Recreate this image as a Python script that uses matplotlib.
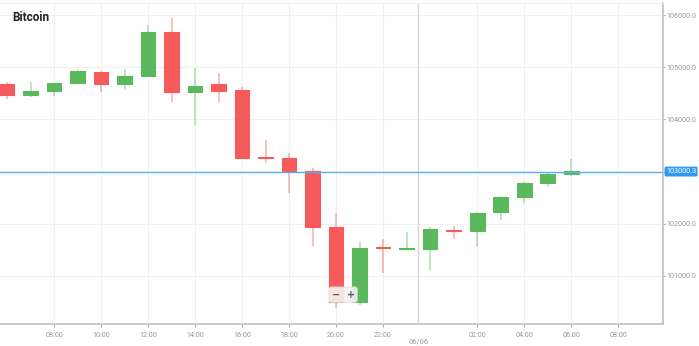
import numpy as np
import matplotlib
matplotlib.use("Agg")
import matplotlib.pyplot as plt

# hourly candles, hour counted from 05/06 00:00
hours = list(range(6, 31))
opens = [104672, 104467, 104544, 104692, 104914, 104672, 104831, 105669, 104531, 104672,
         104563, 103285, 103266, 103011, 101933, 100496, 101545, 101517, 101517, 101885,
         101868, 102220, 102508, 102787, 102954]
highs = [104722, 104716, 104697, 104946, 104930, 104966, 105808, 105948, 104979, 104895,
         104615, 103605, 103362, 103063, 102201, 101657, 101709, 101849, 101944, 101958,
         102232, 102533, 102800, 102975, 103241]
lows = [104391, 104435, 104448, 104690, 104531, 104577, 104820, 104339, 103893, 104339,
        103250, 103159, 102596, 101580, 100381, 100444, 101052, 101510, 101096, 101703,
        101561, 102073, 102393, 102699, 102916]
closes = [104467, 104544, 104692, 104927, 104672, 104837, 105669, 104531, 104646, 104550,
          103266, 103260, 103017, 101944, 100508, 101542, 101525, 101530, 101895, 101865,
          102207, 102508, 102787, 102960, 103011]

tick_hours = [8, 10, 12, 14, 16, 18, 20, 22, 26, 28, 30, 32]
tick_labels = ['08:00', '10:00', '12:00', '14:00', '16:00', '18:00', '20:00', '22:00',
               '02:00', '04:00', '06:00', '08:00']
y_ticks = [101000, 102000, 103000, 104000, 105000, 106000]
last_price = 103000.3
day_split = 23.5
day_label = '06/06'

up_col = '#5cb85c'
down_col = '#f55b5b'
lab_col = '#9a9a9a'

fig = plt.figure(figsize=(6.99, 3.46), dpi=100)
ax = fig.add_axes([0.0, 0.064, 0.9485, 0.927])

o = np.array(opens)
c = np.array(closes)
h = np.array(highs)
l = np.array(lows)
x = np.array(hours)
cols = [up_col if cc >= oo else down_col for oo, cc in zip(o, c)]

ax.vlines(x, l, h, colors=cols, linewidth=1.2, alpha=0.45, zorder=2)
ax.bar(x, np.abs(c - o), bottom=np.minimum(o, c), width=0.63, color=cols,
       edgecolor=cols, linewidth=0.8, zorder=3)

ax.set_xlim(5.70, 33.91)
ax.set_ylim(100080, 106230)

ax.set_xticks(tick_hours)
ax.set_xticklabels(tick_labels)
ax.set_yticks(y_ticks)
# the 103000 label sits under the price box
ax.set_yticklabels(['' if v == 103000 else f'{v:.1f}' for v in y_ticks])
ax.yaxis.tick_right()
ax.tick_params(axis='both', labelsize=5.2, colors=lab_col, length=1.2, width=0.6, pad=1)
ax.tick_params(axis='x', length=2, pad=4)
for t in ax.get_xticklabels() + ax.get_yticklabels():
    t.set_family('Roboto')

ax.grid(True, color='#f0f0f0', linewidth=0.8, zorder=0)
ax.set_axisbelow(True)
ax.axvline(day_split, color='#d6d6d6', linewidth=1.0, zorder=1)

ax.spines['left'].set_visible(False)
ax.spines['top'].set_color('#eeeeee')
ax.spines['bottom'].set_color('#c4c4c4')
ax.spines['right'].set_color('#c4c4c4')
ax.spines['bottom'].set_linewidth(1.3)
ax.spines['right'].set_linewidth(1.3)

# date separator label
ax.annotate(day_label, xy=(day_split, 0), xycoords=('data', 'axes fraction'),
            xytext=(0, -18), textcoords='offset pixels', ha='center', va='center',
            fontsize=5.5, color=lab_col, family='Roboto', annotation_clip=False)

# current price
ax.axhline(last_price, color='#5aaef0', linewidth=1.0, zorder=4)
ax.annotate(f'{last_price:.1f}', xy=(1, last_price), xycoords=('axes fraction', 'data'),
            xytext=(3, 0), textcoords='offset pixels', ha='left', va='center',
            fontsize=5.2, color='white', family='Roboto', annotation_clip=False,
            bbox=dict(boxstyle='round,pad=0.2', fc='#2f9af0', ec='none'))

ax.text(12, 346 - 11, 'Bitcoin', transform=None, fontsize=8.5, fontweight='bold',
        color='#222222', ha='left', va='top', family='Roboto')

# zoom widget
ax.annotate('−  +', xy=(20.3, 100640), xycoords='data', ha='center', va='center',
            fontsize=7, fontweight='bold', color='#555555', zorder=6,
            bbox=dict(boxstyle='round,pad=0.25', fc='#f4f4f4', ec='#e6e6e6', alpha=0.9))

fig.savefig('out.png', dpi=100)
